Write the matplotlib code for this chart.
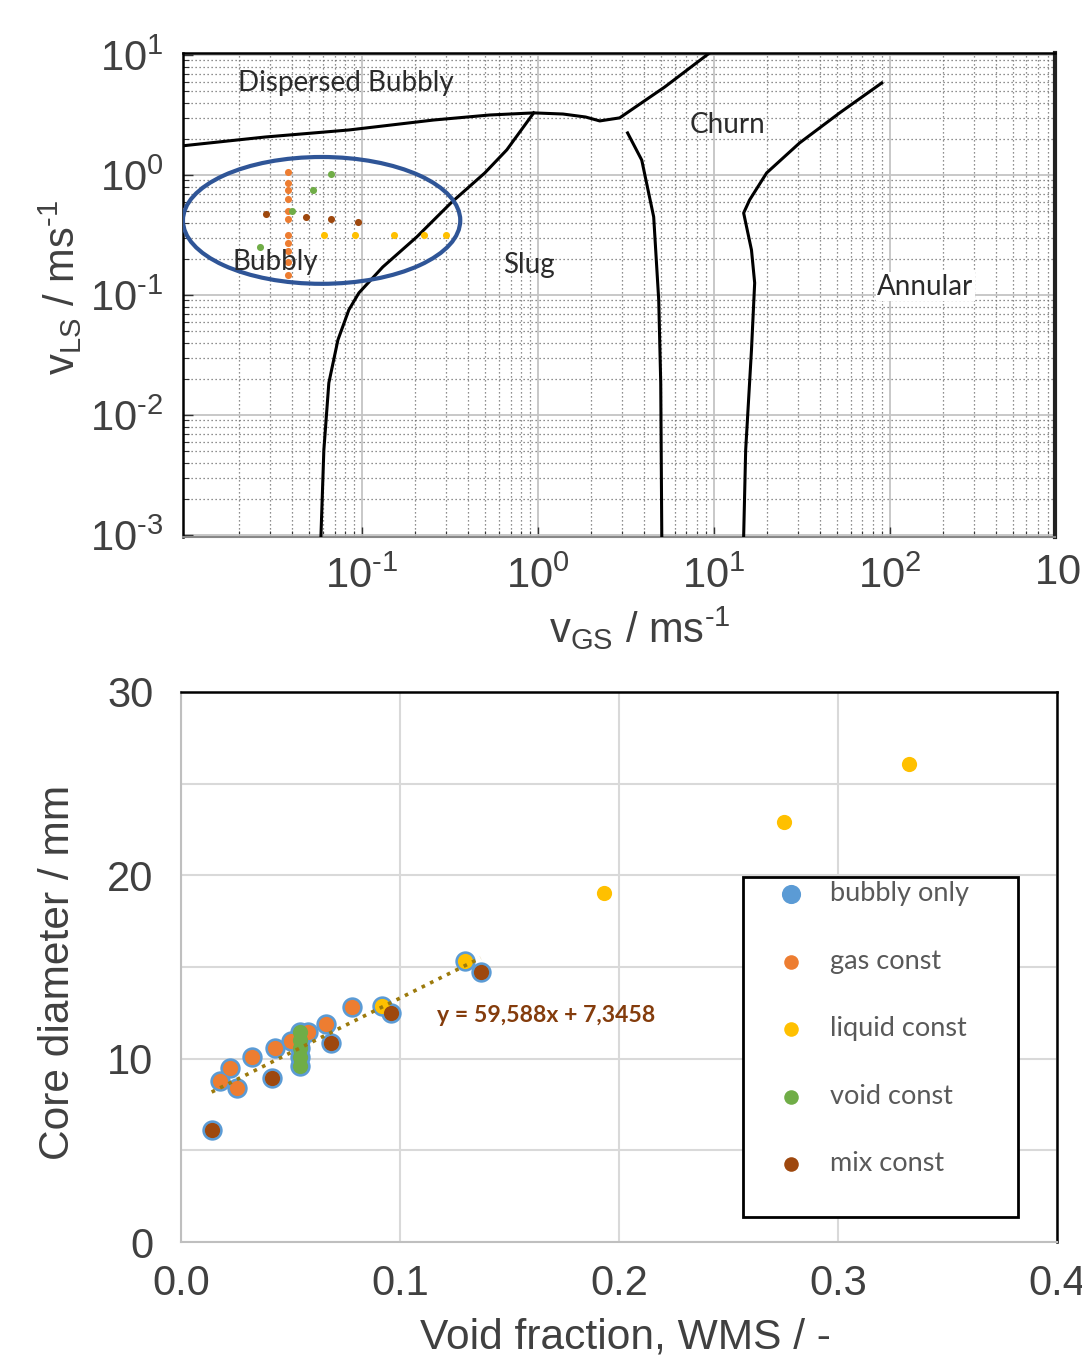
import numpy as np
import matplotlib
matplotlib.use('Agg')
import matplotlib.pyplot as plt
from matplotlib.patches import Ellipse, Rectangle
from matplotlib.ticker import LogLocator, NullFormatter

plt.rcParams['font.family'] = 'Liberation Sans'
plt.rcParams['mathtext.fontset'] = 'custom'
plt.rcParams['mathtext.rm'] = 'Liberation Sans'
plt.rcParams['mathtext.it'] = 'Liberation Sans:italic'

# ---------------- flow map (top) ----------------
# boundary lines, (vGS, vLS) in m/s
disp_x = [0.0096, 0.0281, 0.0843, 0.256, 0.533, 0.948, 1.39, 1.87, 2.25, 2.92, 5.27, 9.48]
disp_y = [1.75, 2.07, 2.37, 2.87, 3.16, 3.29, 3.22, 3.04, 2.82, 2.99, 5.41, 10.4]

slug_x = [0.0585, 0.0608, 0.0649, 0.0731, 0.0843, 0.0962, 0.1315, 0.205, 0.321, 0.5, 0.667, 0.948]
slug_y = [0.00096, 0.0051, 0.0185, 0.0422, 0.075, 0.104, 0.171, 0.304, 0.585, 1.04, 1.62, 3.29]

churn_x = [3.24, 3.9, 4.56, 4.87, 5.0, 5.07]
churn_y = [2.24, 1.33, 0.447, 0.0908, 0.0185, 0.00096]

annul_x = [14.8, 15.2, 16.4, 17.1, 16.4, 14.8, 16.0, 20.0, 30.8, 52.0, 90.2]
annul_y = [0.00096, 0.0051, 0.0348, 0.126, 0.237, 0.482, 0.619, 1.04, 1.85, 3.29, 5.84]

# measured points on the map
map_gas_x = [0.0381] * 11 + [0.0095]
map_gas_y = [1.05, 0.853, 0.75, 0.631, 0.501, 0.428, 0.316, 0.27, 0.233, 0.1895, 0.147, 0.501]
map_void_x = [0.0667, 0.0528, 0.0399, 0.0263]
map_void_y = [1.01, 0.75, 0.501, 0.253]
map_mix_x = [0.0285, 0.0479, 0.0667, 0.0945]
map_mix_y = [0.473, 0.449, 0.43, 0.403]
map_liq_x = [0.0611, 0.0912, 0.1526, 0.226, 0.300]
map_liq_y = [0.316, 0.316, 0.316, 0.316, 0.316]

# ---------------- core diameter (bottom) ----------------
bub_x = [0.0140, 0.0414, 0.0685, 0.0958, 0.1368,
         0.0178, 0.0224, 0.0254, 0.0323, 0.0429, 0.0502, 0.0581, 0.0661, 0.0782,
         0.0543, 0.0543, 0.0543, 0.0543, 0.0543, 0.0916, 0.1297]
bub_y = [6.11, 8.96, 10.84, 12.51, 14.75,
         8.80, 9.48, 8.39, 10.08, 10.60, 10.98, 11.44, 11.88, 12.80,
         11.47, 11.02, 10.57, 10.11, 9.60, 12.89, 15.35]
gas_x = [0.0178, 0.0224, 0.0254, 0.0323, 0.0429, 0.0502, 0.0581, 0.0661, 0.0782]
gas_y = [8.80, 9.48, 8.39, 10.08, 10.60, 10.98, 11.44, 11.88, 12.80]
liq_x = [0.0916, 0.1297, 0.1933, 0.2755, 0.3323]
liq_y = [12.89, 15.35, 19.02, 22.88, 26.06]
void_x = [0.0543, 0.0543, 0.0543, 0.0543, 0.0543]
void_y = [11.47, 11.02, 10.57, 10.11, 9.60]
mix_x = [0.0140, 0.0414, 0.0685, 0.0958, 0.1368]
mix_y = [6.11, 8.96, 10.84, 12.51, 14.75]

fit_a, fit_b = 59.588, 7.3458

c_blue, c_orange, c_yellow, c_green, c_brown = '#5B9BD5', '#ED7D31', '#FFC000', '#70AD47', '#9E480E'
txt = '#404040'


def pow10(e):
    # short hyphen in the exponent, like the original
    e = str(e).replace('-', r'\text{-}')
    return r'$\mathregular{10^{%s}}$' % e


fig = plt.figure(figsize=(10.82, 13.57), dpi=100)

# ===== top: flow regime map =====
ax1 = fig.add_axes([0.1691, 0.6043, 0.8059, 0.3567])
ax1.set_xscale('log')
ax1.set_yscale('log')
ax1.set_xlim(10 ** -2.017, 10 ** 2.94)
ax1.set_ylim(10 ** -3.017, 10 ** 1.017)
ax1.xaxis.set_minor_locator(LogLocator(base=10, subs=np.arange(2, 10)))
ax1.yaxis.set_minor_locator(LogLocator(base=10, subs=np.arange(2, 10)))
ax1.xaxis.set_minor_formatter(NullFormatter())
ax1.yaxis.set_minor_formatter(NullFormatter())
ax1.set_xticks([0.1, 1, 10, 100])
ax1.set_xticklabels([pow10(e) for e in [-1, 0, 1, 2]])
ax1.set_yticks([1e-3, 1e-2, 1e-1, 1, 10])
ax1.set_yticklabels([pow10(e) for e in [-3, -2, -1, 0, 1]])
ax1.tick_params(which='major', direction='in', length=7, width=1, color='#333333',
                labelsize=30, labelcolor=txt, pad=14)
ax1.tick_params(which='minor', direction='in', length=4, width=0.8, color='#333333')
ax1.grid(which='major', color='#c4c4c4', lw=1.3, ls='-')
ax1.grid(which='minor', color='#6a6a6a', lw=0.9, ls=(0, (1, 2.2)))
ax1.set_axisbelow(True)
ax1.text(1000, -0.035, pow10(3), transform=ax1.get_xaxis_transform(),
         ha='center', va='top', fontsize=30, color=txt, clip_on=False)

for s in ['left', 'top']:
    ax1.spines[s].set_color('black')
    ax1.spines[s].set_linewidth(1.8)
ax1.spines['right'].set_color('#222222')
ax1.spines['right'].set_linewidth(3)
ax1.spines['bottom'].set_color('#888888')
ax1.spines['bottom'].set_linewidth(1.5)

for bx, by in [(disp_x, disp_y), (slug_x, slug_y), (churn_x, churn_y), (annul_x, annul_y)]:
    ax1.plot(bx, by, color='black', lw=2.2, zorder=3)

ax1.scatter(map_gas_x, map_gas_y, s=26, color=c_orange, zorder=4, lw=0)
ax1.scatter(map_liq_x, map_liq_y, s=26, color=c_yellow, zorder=4, lw=0)
ax1.scatter(map_void_x, map_void_y, s=26, color=c_green, zorder=4, lw=0)
ax1.scatter(map_mix_x, map_mix_y, s=26, color=c_brown, zorder=4, lw=0)

ax1.add_patch(Ellipse((0.159, 0.654), 0.318, 0.262, transform=ax1.transAxes,
                      fill=False, ec='#2F5597', lw=3, zorder=5))

lab = dict(fontsize=20, color='#2b2b2b', family='Lato', va='center', ha='left', zorder=6)
ax1.text(0.063, 0.938, 'Dispersed Bubbly', transform=ax1.transAxes, **lab)
ax1.text(0.581, 0.851, 'Churn', transform=ax1.transAxes, **lab)
ax1.text(0.057, 0.568, 'Bubbly', transform=ax1.transAxes, **lab)
ax1.text(0.367, 0.562, 'Slug', transform=ax1.transAxes, **lab)
ax1.text(0.796, 0.517, 'Annular', transform=ax1.transAxes,
         bbox=dict(fc='white', ec='none', pad=1), **lab)

fig.text(0.591, 1 - 628 / 1357, r'v$_{\mathregular{GS}}$ / ms$^{\mathregular{\text{-}1}}$',
         ha='center', va='center', fontsize=30, color=txt)
fig.text(0.056, 1 - 287 / 1357, r'v$_{\mathregular{LS}}$ / ms$^{\mathregular{\text{-}1}}$',
         ha='center', va='center', fontsize=30, color=txt, rotation=90)

# ===== bottom: core diameter vs void fraction =====
ax2 = fig.add_axes([0.1673, 0.0847, 0.8096, 0.4054])
ax2.set_xlim(0, 0.4)
ax2.set_ylim(0, 30)
ax2.set_xticks(np.arange(0, 0.41, 0.1))
ax2.set_xticklabels(['0.0', '0.1', '0.2', '0.3', '0.4'])
ax2.set_yticks(np.arange(0, 31, 5))
ax2.set_yticklabels(['0', '', '10', '', '20', '', '30'])
ax2.tick_params(length=0, labelsize=30, labelcolor=txt)
ax2.tick_params(axis='x', pad=16)
ax2.tick_params(axis='y', pad=20)
ax2.grid(color='#d9d9d9', lw=1.5)
ax2.set_axisbelow(True)
for s in ['top', 'right']:
    ax2.spines[s].set_color('black')
    ax2.spines[s].set_linewidth(1.8)
for s in ['left', 'bottom']:
    ax2.spines[s].set_color('#bfbfbf')
    ax2.spines[s].set_linewidth(1.5)

h_bub = ax2.scatter(bub_x, bub_y, s=215, color=c_blue, lw=0, zorder=3, label='bubbly only')
h_gas = ax2.scatter(gas_x, gas_y, s=120, color=c_orange, lw=0, zorder=4, label='gas const')
h_liq = ax2.scatter(liq_x, liq_y, s=120, color=c_yellow, lw=0, zorder=4, label='liquid const')
h_void = ax2.scatter(void_x, void_y, s=120, color=c_green, lw=0, zorder=4, label='void const')
h_mix = ax2.scatter(mix_x, mix_y, s=120, color=c_brown, lw=0, zorder=5, label='mix const')

fit_x = np.array([min(bub_x), max(bub_x)])
ax2.plot(fit_x, fit_a * fit_x + fit_b, color='#9C7A0C', lw=2.6, ls=(0, (1, 1.6)), zorder=6)
ax2.text(0.117, 12.38, 'y = 59,588x + 7,3458', ha='left', va='center', color='#843C0C',
         fontsize=16.6, fontweight='bold', family='Lato', zorder=7)

ax2.add_patch(Rectangle((0.6416, 0.0455), 0.314, 0.618, transform=ax2.transAxes,
                        fc='white', ec='black', lw=2, zorder=6))
leg = ax2.legend(handles=[h_bub, h_gas, h_liq, h_void, h_mix], loc='upper left',
                 bbox_to_anchor=(0.6735, 0.656), frameon=False, borderpad=0, borderaxespad=0,
                 handlelength=1.5, handletextpad=0.685, labelspacing=1.57,
                 prop={'family': 'Lato', 'size': 19.5}, labelcolor='#595959', scatterpoints=1)
leg.set_zorder(8)
for hnd, sz in zip(leg.legend_handles, [190, 110, 110, 110, 110]):
    hnd.set_sizes([sz])

fig.text(0.578, 1 - 1337 / 1357, 'Void fraction, WMS / -', ha='center', va='center',
         fontsize=30.6, color=txt)
fig.text(0.054, 1 - 972 / 1357, 'Core diameter / mm', ha='center', va='center',
         fontsize=30.6, color=txt, rotation=90)

fig.savefig('out.png', dpi=100)
